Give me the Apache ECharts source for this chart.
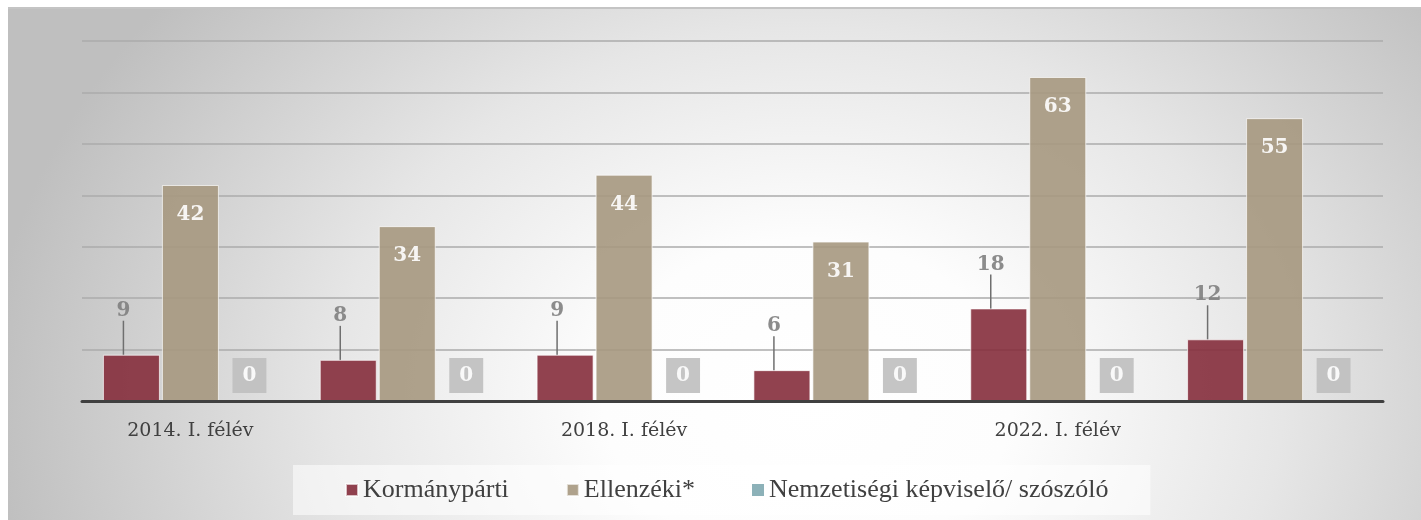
<!DOCTYPE html>
<html>
<head>
<meta charset="utf-8">
<script src="https://cdn.jsdelivr.net/npm/echarts@6/dist/echarts.min.js"></script>
<style>
  html, body { margin: 0; padding: 0; background: #ffffff; }
  #wrap { position: relative; width: 1421px; height: 520px; overflow: hidden; }
  #bg {
    position: absolute; left: 8px; top: 7px; right: 0; bottom: 0;
    border-top: 2px solid #c4c4c4;
    background: radial-gradient(ellipse 820px 640px at 800px 390px, #ffffff 0%, #fdfdfd 25%, #e6e6e6 58%, #bfbfbf 100%);
  }
  #main { position: absolute; left: 0; top: 0; width: 1421px; height: 520px; }
</style>
</head>
<body>
<div id="wrap">
  <div id="bg"></div>
  <div id="main"></div>
</div>
<script>
const categories = ['2014. I. félév', '2016. I. félév', '2018. I. félév', '2020. I. félév', '2022. I. félév', '2024. I. félév'];
const seriesNames = ['Kormánypárti', 'Ellenzéki*', 'Nemzetiségi képviselő/ szószóló'];
const kormanypartiValues = [9, 8, 9, 6, 18, 12];
const ellenzekiValues = [42, 34, 44, 31, 63, 55];
const nemzetisegiValues = [0, 0, 0, 0, 0, 0];

const serif = 'Georgia, "DejaVu Serif", serif';
const chart = echarts.init(document.getElementById('main'), null, { renderer: 'canvas' });

const barBorder = { borderColor: 'rgba(255,255,255,0.75)', borderWidth: 1 };

chart.setOption({
  backgroundColor: 'transparent',
  animation: false,
  grid: { left: 82, right: 38, top: 41, bottom: 119 },
  legend: {
    data: seriesNames,
    left: 293,
    top: 465,
    padding: [12, 42, 12, 52],
    backgroundColor: 'rgba(255,255,255,0.55)',
    itemWidth: 12,
    itemHeight: 12,
    itemGap: 57,
    icon: 'rect',
    textStyle: { fontFamily: '"Liberation Serif", serif', fontSize: 26, color: '#404040' }
  },
  xAxis: {
    type: 'category',
    data: categories,
    z: 5,
    axisTick: { show: false },
    axisLine: { lineStyle: { color: '#404040', width: 3 } },
    axisLabel: { interval: 1, fontFamily: serif, fontSize: 19, color: '#404040', margin: 21 }
  },
  yAxis: {
    type: 'value',
    min: 0, max: 70, interval: 10,
    axisLabel: { show: false },
    axisLine: { show: false },
    axisTick: { show: false },
    splitLine: { lineStyle: { color: '#ababab', width: 1.5 } }
  },
  series: [
    {
      name: seriesNames[0],
      type: 'bar',
      data: kormanypartiValues,
      barWidth: 57,
      barGap: '3.5%',
      itemStyle: Object.assign({ color: '#852d3c', opacity: 0.9 }, barBorder),
      label: {
        show: true, position: 'top', distance: 4,
        fontFamily: serif, fontWeight: 'bold', fontSize: 20, color: '#7f7f7f'
      },
      labelLayout: { dx: -8, dy: -30 },
      labelLine: { show: true, lineStyle: { color: '#6f6f6f', width: 1.5 } }
    },
    {
      name: seriesNames[1],
      type: 'bar',
      data: ellenzekiValues,
      barWidth: 57,
      barGap: '3.5%',
      itemStyle: Object.assign({ color: '#a6987f', opacity: 0.9 }, barBorder),
      label: {
        show: true, position: 'insideTop', distance: 20,
        fontFamily: serif, fontWeight: 'bold', fontSize: 20, color: '#ffffff'
      }
    },
    {
      name: seriesNames[2],
      type: 'bar',
      data: nemzetisegiValues,
      barWidth: 57,
      barGap: '3.5%',
      itemStyle: { color: '#7fa8b0', opacity: 0.9, borderWidth: 0 },
      label: {
        show: true, position: 'top', distance: 8,
        fontFamily: serif, fontWeight: 'bold', fontSize: 20, color: '#ffffff',
        backgroundColor: '#bfbfbf', padding: [8, 10], lineHeight: 19
      }
    }
  ]
});
</script>
</body>
</html>
